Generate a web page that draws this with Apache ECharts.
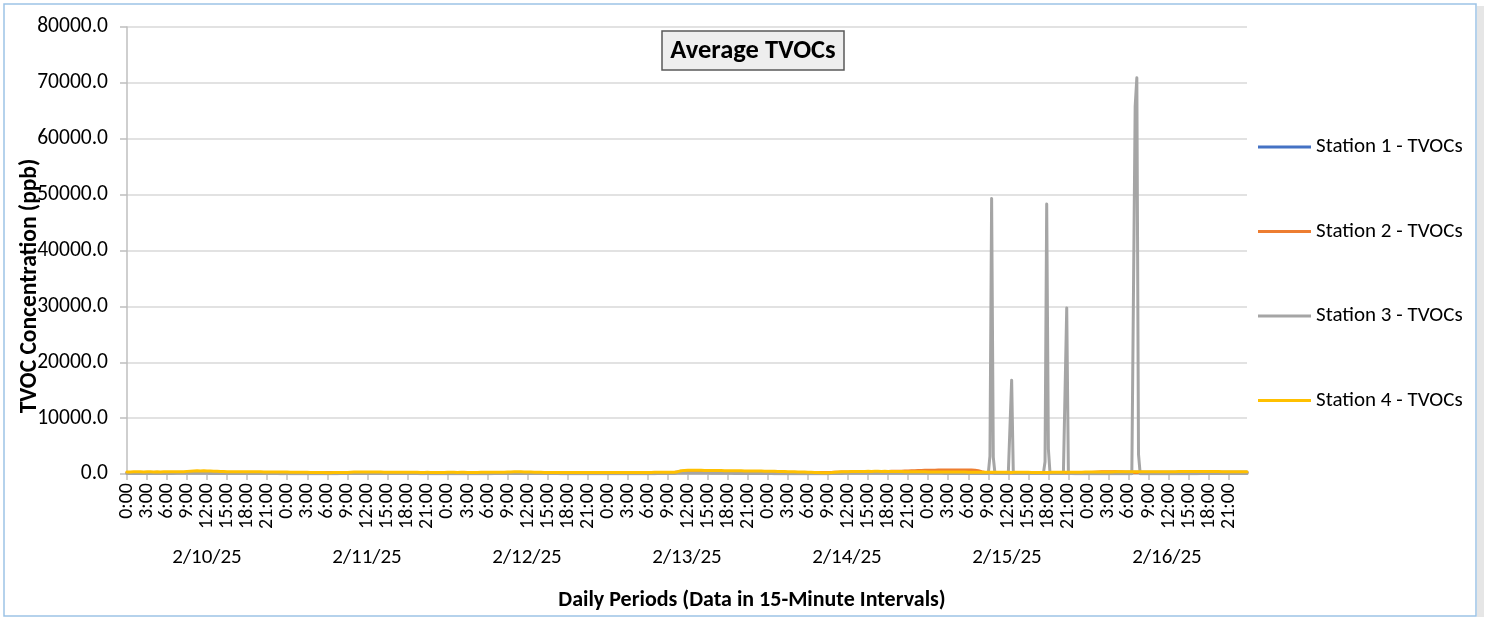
<!DOCTYPE html>
<html>
<head>
<meta charset="utf-8">
<script src="https://cdn.jsdelivr.net/npm/echarts@6.0.0/dist/echarts.min.js"></script>
<style>
html, body { margin: 0; padding: 0; background: #fff; }
#main { width: 1486px; height: 617px; }
</style>
</head>
<body>
<div id="main"></div>
<script>
// days shown on the second label row, each split into 96 quarter-hours
var days = ['2/10/25', '2/11/25', '2/12/25', '2/13/25', '2/14/25', '2/15/25', '2/16/25'];
var seriesNames = ['Station 1 - TVOCs', 'Station 2 - TVOCs', 'Station 3 - TVOCs', 'Station 4 - TVOCs'];
var seriesColors = ['#4472c4', '#ed7d31', '#a5a5a5', '#ffc000'];

// Station 1 (ppb), 15-minute values, 24 per row
var station1 = [
  215,221,218,224,219,216,223,227,220,218,225,229,222,226,231,228,224,230,233,227,225,229,232,226,
  230,236,233,240,245,241,248,252,258,255,262,268,274,279,283,280,286,282,278,284,276,272,275,270,
  266,262,268,259,255,251,257,248,244,249,241,238,243,236,232,237,230,234,238,233,229,235,231,228,
  232,226,223,229,221,225,219,222,217,214,220,216,212,218,213,209,215,211,207,212,208,205,210,206,
  203,208,201,198,204,197,193,199,195,190,196,192,188,194,189,186,191,187,184,189,185,182,188,184,
  187,191,189,195,199,196,203,208,206,212,218,215,222,227,224,231,236,233,238,242,239,243,240,237,
  241,238,235,239,233,236,230,234,228,231,225,229,223,226,220,224,218,221,216,219,214,217,212,215,
  211,214,209,212,207,210,205,208,203,206,201,204,199,202,198,201,196,199,195,198,194,197,193,196,
  195,198,193,197,192,196,190,194,189,193,188,192,187,191,186,190,185,189,184,188,186,190,188,192,
  190,194,196,200,198,203,206,210,208,214,218,215,221,226,230,234,238,242,239,244,241,238,236,233,
  230,227,224,221,218,220,215,212,214,209,211,206,208,204,206,202,204,200,203,199,201,198,200,197,
  199,196,198,195,197,194,196,193,195,192,194,191,193,190,192,189,191,188,190,187,189,186,188,185,
  187,184,186,183,185,182,184,181,183,180,182,179,181,178,180,177,179,176,178,175,177,174,176,173,
  175,178,181,184,187,190,194,198,203,209,215,222,226,231,236,242,248,253,330,356,364,370,372,368,
  365,362,358,355,350,346,341,337,332,328,323,319,314,310,305,301,297,293,289,286,282,279,276,273,
  270,268,265,263,260,258,256,254,252,250,248,246,244,242,240,239,237,236,234,233,231,230,229,228,
  226,225,223,222,220,219,217,216,214,213,212,210,209,208,206,205,204,203,201,200,199,198,197,196,
  195,194,193,192,191,190,189,188,187,186,186,185,190,198,206,215,224,232,240,247,253,258,262,265,
  268,270,272,274,276,278,279,281,282,284,285,286,288,287,285,286,288,290,289,287,286,288,290,288,
  286,285,284,282,281,280,278,277,276,275,274,272,271,270,269,268,266,265,264,263,262,261,260,259,
  258,257,256,256,255,254,253,252,252,251,250,249,249,248,247,246,246,245,244,244,243,242,242,241,
  240,240,239,238,238,237,236,236,235,234,234,233,232,232,231,230,230,229,229,228,227,227,226,226,
  225,224,224,223,223,222,222,221,220,220,219,219,218,218,217,217,216,216,215,215,214,214,213,213,
  214,216,218,220,222,224,226,228,230,232,234,236,238,240,242,244,246,248,250,252,254,256,258,260,
  262,264,266,268,270,272,274,276,278,280,282,284,286,288,290,292,294,296,298,300,302,304,306,308,
  310,312,314,316,318,320,322,324,322,320,318,316,314,312,310,308,306,304,306,308,310,312,314,316,
  318,320,322,324,326,328,330,332,334,336,338,340,342,344,346,348,350,352,354,352,350,348,346,344,
  342,340,338,336,334,332,330,328,326,324,322,320,318,316,314,312,310,308,306,304,302,300,298,296
];

// Station 2 (ppb)
var station2 = [
  245,248,242,250,247,244,251,254,249,246,252,256,250,253,258,255,251,257,260,254,250,256,259,253,
  258,262,259,266,270,267,274,279,276,283,290,296,302,308,314,318,322,319,315,320,316,312,309,305,
  301,297,293,298,290,286,291,283,279,284,276,272,277,270,266,271,264,268,272,267,263,269,265,261,
  266,260,257,263,255,259,253,256,251,248,254,250,246,252,247,243,249,245,241,246,242,239,244,240,
  237,242,235,232,238,231,227,233,229,224,230,226,222,228,223,220,225,221,218,223,219,216,222,218,
  221,225,223,229,233,230,237,242,240,246,252,249,256,261,258,265,270,267,272,276,273,277,274,271,
  275,272,269,273,267,270,264,268,262,265,259,263,257,260,254,258,252,255,250,253,248,251,246,249,
  245,248,243,246,241,244,239,242,237,240,235,238,233,236,232,235,230,233,229,232,228,231,227,230,
  229,232,227,231,226,230,224,228,223,227,222,226,221,225,220,224,219,223,218,222,220,224,222,226,
  224,228,230,234,232,237,240,244,242,248,252,249,255,260,264,268,272,276,273,278,275,272,270,267,
  264,261,258,255,252,254,249,246,248,243,245,240,242,238,240,236,238,234,237,233,235,232,234,231,
  233,230,232,229,231,228,230,227,229,226,228,225,227,224,226,223,225,222,224,221,223,220,222,219,
  221,218,220,217,219,216,218,215,217,214,216,213,215,212,214,211,213,210,212,209,211,208,210,207,
  209,212,215,218,221,224,228,232,237,243,249,256,262,268,275,282,290,298,372,410,440,462,478,486,
  490,494,489,485,481,476,472,467,462,456,451,446,440,435,430,424,419,414,409,404,399,394,390,385,
  381,377,373,369,366,362,359,355,352,349,346,343,340,337,334,331,328,326,323,321,318,316,314,312,
  310,308,306,304,302,300,298,296,295,293,291,289,288,286,285,283,282,280,279,277,276,275,273,272,
  271,270,268,267,266,265,264,262,261,260,259,258,262,274,286,298,310,322,334,344,352,360,366,371,
  376,380,384,388,392,396,400,404,408,412,416,420,424,428,432,436,440,444,448,452,456,460,464,468,
  460,465,470,474,480,486,492,500,508,516,525,534,544,556,568,582,596,610,624,636,646,656,664,670,
  676,682,686,690,693,696,698,700,702,704,705,706,707,708,709,710,710,711,710,708,706,705,703,701,
  700,698,696,692,684,660,600,500,400,320,280,262,256,252,248,246,244,242,240,238,236,235,234,233,
  233,232,231,230,229,228,227,226,225,224,224,223,222,222,221,220,220,219,219,218,218,217,217,216,
  216,215,215,214,214,213,213,212,212,211,211,210,210,210,209,209,208,208,208,207,207,207,206,206,
  220,245,275,305,335,360,380,395,405,412,416,418,417,414,410,404,396,386,374,360,346,332,318,305,
  294,285,278,272,268,265,262,260,259,258,258,257,257,256,256,256,255,255,255,254,254,254,253,253,
  253,252,252,252,251,251,251,250,250,250,249,249,249,248,248,248,247,247,247,246,246,246,245,245,
  245,244,244,244,243,243,243,242,242,242,241,241,241,240,240,240,239,239,239,238,238,238,237,237
];

// Station 3 (ppb), with the spikes on 2/15 and 2/16
var station3 = [
  82,85,79,88,91,84,80,87,93,89,83,78,86,92,95,88,84,81,89,94,90,85,82,88,
  95,101,98,106,112,108,115,120,118,124,130,127,134,140,136,142,138,132,128,135,130,125,122,118,
  115,112,108,104,110,106,101,97,102,98,94,90,95,91,87,92,88,84,89,85,82,86,83,80,
  84,81,78,82,79,76,80,77,74,78,75,72,76,73,70,74,71,68,72,69,66,70,67,65,
  68,65,62,66,63,60,64,61,58,62,59,56,60,57,55,58,56,53,57,54,52,55,53,51,
  54,57,55,60,64,62,67,71,69,74,78,76,81,85,83,88,92,90,94,91,89,93,90,87,
  90,87,84,88,85,82,86,83,80,84,81,78,82,79,76,80,77,74,78,75,72,76,73,71,
  74,71,69,72,70,67,71,68,66,69,67,64,68,65,63,66,64,62,65,63,61,64,62,60,
  63,61,59,62,60,58,61,59,57,60,58,56,59,57,55,58,56,54,57,55,58,61,59,62,
  60,63,66,64,68,71,69,73,76,74,78,81,85,90,94,98,102,99,104,101,97,100,96,93,
  90,87,84,81,85,82,79,76,80,77,74,71,75,72,69,73,70,67,71,68,65,69,66,64,
  67,64,62,65,63,60,64,61,59,62,60,57,61,58,56,59,57,55,58,56,54,57,55,53,
  56,54,52,55,53,51,54,52,50,53,51,49,52,50,48,51,49,47,50,48,51,53,55,58,
  56,60,63,61,66,70,68,73,77,75,80,84,88,92,96,101,106,110,158,176,190,198,204,200,
  196,202,198,194,190,186,192,184,180,176,172,168,164,160,156,152,148,144,140,136,132,128,125,122,
  119,116,113,110,108,105,103,100,98,96,94,92,90,88,86,84,82,80,79,77,76,74,73,71,
  70,69,68,66,65,64,63,62,61,60,59,58,57,56,55,54,53,52,51,50,52,51,50,49,
  47,49,48,46,48,47,45,47,46,44,46,45,52,60,68,76,84,92,98,104,110,114,118,121,
  124,126,128,130,128,132,134,131,135,137,134,138,136,133,137,139,136,140,138,135,139,136,133,137,
  134,131,135,132,129,133,130,127,131,128,125,129,126,123,127,124,121,125,122,119,123,120,117,121,
  118,115,119,116,113,117,114,111,115,112,109,113,110,107,111,108,105,109,106,103,107,104,101,105,
  102,99,103,100,97,101,98,95,99,96,93,97,94,3200,49300,3000,92,89,93,90,87,91,88,85,
  89,86,16800,84,88,85,82,86,83,80,84,81,78,82,79,76,80,77,74,78,75,72,2200,48300,
  4500,73,70,74,71,68,72,69,66,70,67,29700,68,65,69,66,63,67,64,61,65,62,59,63,
  60,64,61,58,62,59,56,60,57,54,58,55,52,56,53,50,54,51,48,52,49,53,50,47,
  51,48,52,49,65800,70900,3500,50,47,51,48,52,49,53,50,54,51,55,52,56,53,57,54,58,
  55,59,56,60,57,61,58,62,59,63,60,64,61,65,62,66,63,67,64,68,65,69,66,70,
  67,71,68,72,69,73,70,74,71,75,72,76,73,77,74,78,75,79,76,80,77,81,78,82
];

// Station 4 (ppb)
var station4 = [
  380,385,378,390,382,376,384,392,388,380,374,386,390,395,387,381,379,388,392,385,380,377,389,394,
  398,402,395,410,405,399,412,418,407,401,396,409,470,492,510,528,545,552,560,548,556,563,571,558,
  549,540,532,518,505,492,480,468,452,441,430,422,415,410,404,398,402,396,391,399,405,410,402,397,
  408,415,420,412,405,399,395,388,392,386,380,376,372,368,375,370,364,360,356,362,358,352,348,345,
  340,336,332,338,330,326,334,328,322,318,312,305,296,288,280,272,265,258,252,256,250,246,252,248,
  245,250,244,256,252,248,255,260,258,252,262,268,290,305,318,330,342,350,356,348,352,360,355,348,
  352,358,362,355,349,344,350,346,340,336,330,325,320,316,312,318,310,306,300,304,298,302,296,292,
  298,305,300,296,292,288,294,298,290,286,282,288,292,296,290,285,280,284,288,282,278,284,290,286,
  292,288,294,300,296,290,286,292,298,302,296,290,286,282,288,294,290,285,282,288,292,298,304,300,
  306,302,298,305,310,315,308,302,312,318,322,316,352,365,378,384,390,382,386,392,385,378,372,366,
  360,352,345,338,330,322,315,308,300,296,290,286,280,276,272,268,274,270,266,262,268,264,260,258,
  262,258,254,260,256,252,258,262,256,250,254,258,262,256,252,248,254,258,262,268,264,270,274,268,
  272,276,270,274,280,276,272,278,282,276,280,284,278,274,280,286,282,278,284,288,282,286,290,284,
  288,292,286,290,296,300,294,298,304,298,302,308,312,305,310,316,318,312,420,520,590,625,648,660,
  668,662,655,668,674,660,652,645,650,642,636,640,632,626,630,622,615,620,612,606,610,602,596,600,
  592,586,590,582,575,580,572,566,570,562,555,560,552,545,550,542,535,540,530,524,528,520,512,516,
  505,498,490,482,475,468,460,452,445,438,430,422,415,408,400,392,385,376,368,360,352,344,336,328,
  318,305,292,280,270,262,255,248,242,238,234,232,236,248,265,285,308,330,350,368,382,395,405,412,
  418,425,430,436,440,445,450,455,452,458,462,466,470,465,460,468,472,476,470,465,460,468,472,466,
  460,455,450,446,442,438,434,430,426,422,418,415,412,408,405,402,398,395,392,390,388,385,382,380,
  378,375,372,370,368,366,364,362,360,358,356,354,352,350,348,346,345,344,342,340,339,338,336,335,
  334,332,330,328,326,324,322,320,318,316,315,314,312,310,308,306,305,304,302,300,298,296,295,294,
  292,290,288,290,292,294,296,298,300,298,296,294,292,290,288,286,285,284,282,280,282,284,286,288,
  290,292,294,296,298,300,302,304,306,308,310,312,314,316,318,320,322,325,328,330,332,335,338,340,
  342,345,348,350,352,355,358,360,362,365,368,370,372,375,378,380,382,385,388,390,392,395,398,400,
  402,405,408,410,412,415,418,420,418,416,414,412,410,408,406,404,402,400,402,404,406,408,410,412,
  414,416,418,420,422,424,426,428,430,432,434,436,438,440,442,444,446,448,450,448,446,444,442,440,
  438,436,434,432,430,428,426,424,422,420,418,416,414,412,410,408,406,404,402,400,398,396,394,392
];

var stationData = [station1, station2, station3, station4];

// category names: date + time of day, one per 15 minutes
var categories = [];
for (var d = 0; d < days.length; d++) {
  for (var q = 0; q < 96; q++) {
    var h = Math.floor(q / 4), m = (q % 4) * 15;
    categories.push(days[d] + ' ' + h + ':' + (m < 10 ? '0' + m : m));
  }
}

var FONT = 'Calibri, Carlito, Lato, sans-serif';

var myChart = echarts.init(document.getElementById('main'));

var series = [];
for (var i = 0; i < seriesNames.length; i++) {
  series.push({
    name: seriesNames[i],
    type: 'line',
    xAxisIndex: 0,
    yAxisIndex: 0,
    data: stationData[i],
    showSymbol: false,
    symbol: 'none',
    color: seriesColors[i],
    lineStyle: { width: 3, color: seriesColors[i], cap: 'round', join: 'round' }
  });
}

var option = {
  animation: false,
  backgroundColor: '#ffffff',
  title: [
    {
      text: 'Average TVOCs',
      left: 744,
      top: 31,
      textAlign: 'center',
      padding: [6, 9, 5, 9],
      backgroundColor: '#eeeeee',
      borderColor: '#595959',
      borderWidth: 1.5,
      textStyle: { fontFamily: FONT, fontSize: 26.5, fontWeight: 'bold', color: '#000', lineHeight: 28 }
    },
    {
      text: 'Daily Periods (Data in 15-Minute Intervals)',
      left: 752,
      top: 589,
      textAlign: 'center',
      padding: 0,
      textStyle: { fontFamily: FONT, fontSize: 22, fontWeight: 'bold', color: '#000' }
    }
  ],
  legend: {
    data: seriesNames,
    orient: 'vertical',
    left: 1253,
    top: 130,
    icon: 'rect',
    itemWidth: 53,
    itemHeight: 3,
    itemGap: 60.5,
    textStyle: { fontFamily: FONT, fontSize: 21, color: '#000', lineHeight: 24 }
  },
  grid: { left: 127, top: 27, width: 1120, height: 447, containLabel: false },
  xAxis: [
    {
      type: 'category',
      data: categories,
      boundaryGap: false,
      position: 'bottom',
      axisLine: { lineStyle: { color: '#bfbfbf', width: 1.5 } },
      axisTick: {
        length: 6,
        lineStyle: { color: '#bfbfbf', width: 1.5 },
        interval: function (idx) { return idx % 12 === 0; }
      },
      axisLabel: {
        rotate: 90,
        margin: 9,
        fontFamily: FONT,
        fontSize: 20,
        color: '#000',
        interval: function (idx) { return idx % 12 === 0; },
        formatter: function (v) { return v.split(' ')[1]; }
      },
      splitLine: { show: false }
    },
    {
      type: 'category',
      data: days,
      boundaryGap: true,
      position: 'bottom',
      offset: 0,
      axisLine: { show: false },
      axisTick: { show: false },
      axisLabel: { margin: 73, fontFamily: FONT, fontSize: 21, color: '#000' },
      splitLine: { show: false }
    }
  ],
  yAxis: {
    type: 'value',
    min: 0,
    max: 80000,
    interval: 10000,
    axisLine: { show: true, lineStyle: { color: '#bfbfbf', width: 1.5 } },
    axisTick: { show: true, length: 7, lineStyle: { color: '#bfbfbf', width: 1.5 } },
    axisLabel: {
      margin: 19,
      fontFamily: FONT,
      fontSize: 21.5,
      color: '#000',
      formatter: function (v) { return v.toFixed(1); }
    },
    splitLine: { lineStyle: { color: '#d9d9d9', width: 1.5 } }
  },
  graphic: [
    {
      type: 'rect',
      silent: true,
      z: -10,
      shape: { x: 1477, y: 6, width: 7, height: 611 },
      style: { fill: '#e6e6e6' }
    },
    {
      type: 'rect',
      silent: true,
      z: -5,
      shape: { x: 4, y: 4, width: 1472, height: 612 },
      style: { fill: '#ffffff', stroke: '#9dc3e6', lineWidth: 1.5 }
    },
    {
      type: 'text',
      silent: true,
      x: 30,
      y: 286,
      rotation: Math.PI / 2,
      style: {
        text: 'TVOC Concentration (ppb)',
        textAlign: 'center',
        textVerticalAlign: 'middle',
        fontFamily: FONT,
        fontSize: 23.5,
        fontWeight: 'bold',
        fill: '#000'
      }
    }
  ],
  series: series
};

myChart.setOption(option);
</script>
</body>
</html>
